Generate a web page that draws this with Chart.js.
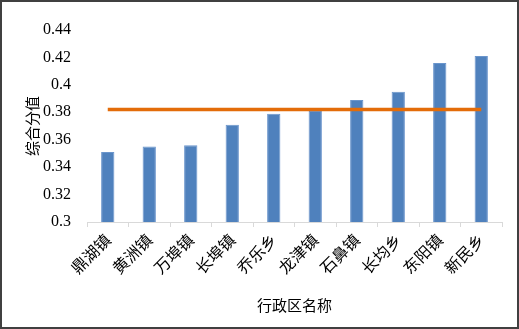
<!DOCTYPE html>
<html>
<head>
<meta charset="utf-8">
<script src="https://cdn.jsdelivr.net/npm/chart.js@4"></script>
<style>
  html, body { margin: 0; padding: 0; background: #fff; }
  #wrap { width: 519px; height: 329px; box-sizing: border-box; border: 2px solid #404040; }
</style>
</head>
<body>
<div id="wrap"><canvas id="scoreChart" width="515" height="325"></canvas></div>
<script>
// categorias y valores
const towns = ['鼎湖镇', '黄洲镇', '万埠镇', '长埠镇', '乔乐乡', '龙津镇', '石鼻镇', '长均乡', '东阳镇', '新民乡']
const scores = [0.351, 0.355, 0.356, 0.371, 0.379, 0.381, 0.389, 0.395, 0.416, 0.421]
const meanLine = [0.382, 0.382, 0.382, 0.382, 0.382, 0.382, 0.382, 0.382, 0.382, 0.382]
const yTicks = [0.3, 0.32, 0.34, 0.36, 0.38, 0.4, 0.42, 0.44]

const serif = "'Liberation Serif', 'Noto Sans CJK SC', serif"
const cjk = "'Noto Sans CJK SC', 'Liberation Serif', serif"

Chart.defaults.color = '#000'
Chart.defaults.animation = false

const renderScoreChart = () => {
    const data = {
        labels: towns,
        datasets: [
            {
                type: 'line',
                data: meanLine,
                borderColor: '#e36c09',
                borderWidth: 3.5,
                pointRadius: 0,
                order: 0
            },
            {
                type: 'bar',
                data: scores,
                backgroundColor: '#4f81bd',
                borderColor: '#6a95cc',
                borderWidth: 1,
                categoryPercentage: 1,
                barPercentage: 0.32,
                order: 1
            }
        ]
    }
    const options = {
        responsive: false,
        layout: { padding: { top: 28, right: 15, left: 17, bottom: 13 } },
        plugins: { legend: { display: false }, tooltip: { enabled: false } },
        scales: {
            x: {
                offset: true,
                afterFit: scale => { scale.height = 92 },
                grid: { display: true, offset: true, drawOnChartArea: false, drawTicks: true, tickLength: 5, color: '#d9d9d9' },
                border: { display: true, color: '#d9d9d9' },
                ticks: { minRotation: 45, maxRotation: 45, font: { family: cjk, size: 16 }, padding: 3 },
                title: { display: true, text: '行政区名称', font: { family: cjk, size: 15 }, padding: { top: 4, bottom: 0 } }
            },
            y: {
                min: 0.3,
                max: 0.44,
                afterBuildTicks: scale => { scale.ticks = yTicks.map(v => ({ value: v })) },
                afterFit: scale => { scale.width = 68 },
                grid: { display: false },
                border: { display: false },
                ticks: { font: { family: serif, size: 16 }, padding: 8, callback: v => String(parseFloat(v.toFixed(2))) },
                title: { display: true, text: '综合分值', font: { family: cjk, size: 15 } }
            }
        }
    }
    new Chart('scoreChart', { data, options })
}

renderScoreChart()
</script>
</body>
</html>
